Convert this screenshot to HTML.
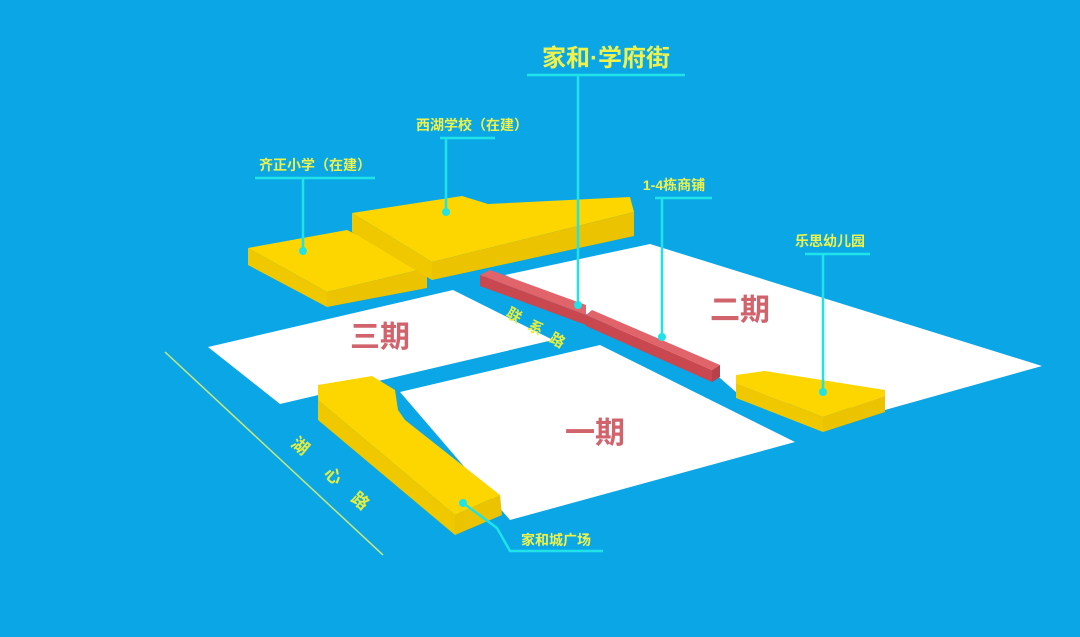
<!DOCTYPE html>
<html><head><meta charset="utf-8"><style>
html,body{margin:0;padding:0;background:#0aa6e6;}
svg{display:block}
text{font-family:"Liberation Sans","Noto Sans CJK SC",sans-serif;font-weight:bold}
</style></head><body>
<svg width="1080" height="637" viewBox="0 0 1080 637" xmlns="http://www.w3.org/2000/svg">
<rect width="1080" height="637" fill="#0aa6e6"/>
<!-- plots -->
<polygon points="208,347 453,290 553,340 280,404" fill="#fff"/>
<polygon points="400,392 600,345 795,442 510,520" fill="#fff"/>
<polygon points="505,275 650,244 1042,366 885,410 745,400 720,378" fill="#fff"/>
<!-- road line -->
<line x1="165" y1="352" x2="383" y2="555" stroke="#c8e87a" stroke-width="1.5"/>
<!-- yellow 齐正 -->
<polygon points="248,248 347,230 427,268 327,292" fill="#fdd600"/>
<polygon points="248,248 327,292 327,307 248,265" fill="#f0c800"/>
<polygon points="327,292 427,268 427,288 327,307" fill="#ecc300"/>
<!-- yellow 西湖 -->
<polygon points="352,213 462,196 488,204 630,197 634,212 432,262" fill="#fdd600"/>
<polygon points="352,213 432,262 432,280 352,232" fill="#f0c800"/>
<polygon points="432,262 634,212 634,236 432,280" fill="#ecc300"/>
<!-- red bars -->
<polygon points="480,275 490,270 586,305 586,315" fill="#e2646b"/>
<polygon points="480,275 586,315 586,325 480,286" fill="#c9484f"/>
<polygon points="586,315 592,310 720,365 712,370" fill="#e2646b"/>
<polygon points="586,315 712,370 712,382 586,326" fill="#c9484f"/>
<polygon points="712,370 720,365 720,377 712,382" fill="#b8404a"/>
<!-- yellow L -->
<polygon points="318,385 372,376 395,390 398,410 405,420 500,495 455,515 318,400" fill="#fdd600"/>
<polygon points="318,400 455,515 455,535 318,420" fill="#f0c800"/>
<polygon points="455,515 500,495 502,515 455,535" fill="#ecc300"/>
<!-- yellow 乐思 -->
<polygon points="736,375 765,371 885,390 885,396 823,417 736,383" fill="#fdd600"/>
<polygon points="736,383 823,417 823,432 736,398" fill="#f0c800"/>
<polygon points="823,417 885,396 885,412 823,432" fill="#ecc300"/>
<!-- phase labels -->
<text x="380" y="347" font-size="30" fill="#d0636b" text-anchor="middle">三期</text>
<text x="740" y="320" font-size="30" fill="#d0636b" text-anchor="middle">二期</text>
<text x="595" y="443" font-size="30" fill="#d0636b" text-anchor="middle">一期</text>
<!-- road labels -->
<text x="505" y="316" font-size="15" fill="#e8ef3a" transform="rotate(30 505 316)" letter-spacing="10">联系路</text>
<text x="290" y="445" font-size="17" fill="#e8ef3a" transform="rotate(40 290 445)">湖</text>
<text x="323" y="475" font-size="17" fill="#e8ef3a" transform="rotate(40 323 475)">心</text>
<text x="350" y="500" font-size="17" fill="#e8ef3a" transform="rotate(40 350 500)">路</text>
<!-- callouts -->
<g stroke="#1fe3e8" stroke-width="2.5" fill="none">
<line x1="527" y1="75" x2="685" y2="75"/><line x1="578" y1="75" x2="578" y2="305"/>
<line x1="255" y1="178" x2="375" y2="178"/><line x1="303" y1="178" x2="303" y2="251"/>
<line x1="440" y1="138" x2="495" y2="138"/><line x1="446" y1="138" x2="446" y2="212"/>
<line x1="655" y1="198" x2="712" y2="198"/><line x1="662" y1="198" x2="662" y2="337"/>
<line x1="805" y1="254" x2="870" y2="254"/><line x1="823" y1="254" x2="823" y2="392"/>
<polyline points="463,503 497,528 510,551 603,551"/>
</g>
<g fill="#1fe3e8">
<circle cx="578" cy="305" r="4"/><circle cx="303" cy="251" r="4"/><circle cx="446" cy="212" r="4"/>
<circle cx="662" cy="337" r="4"/><circle cx="823" cy="392" r="4"/><circle cx="463" cy="503" r="4"/>
</g>
<g fill="#eef24a">
<text x="606" y="66" font-size="24" text-anchor="middle">家和·学府街</text>
<text x="315" y="170" font-size="14" text-anchor="middle">齐正小学（在建）</text>
<text x="472" y="130" font-size="14" text-anchor="middle">西湖学校（在建）</text>
<text x="674" y="190" font-size="14" text-anchor="middle">1-4栋商铺</text>
<text x="830" y="246" font-size="14" text-anchor="middle">乐思幼儿园</text>
<text x="556" y="545" font-size="14" text-anchor="middle">家和城广场</text>
</g>
</svg>
</body></html>
